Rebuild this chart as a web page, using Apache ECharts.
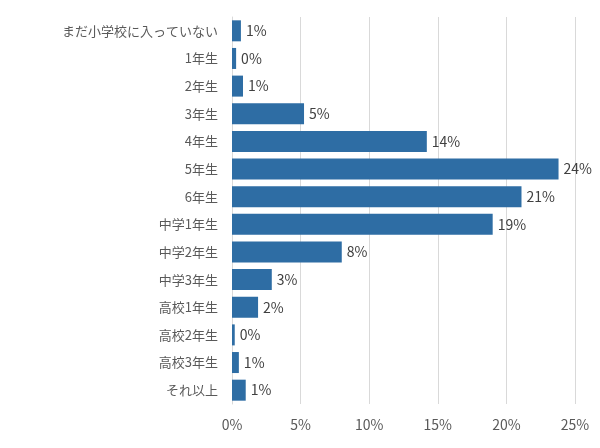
<!DOCTYPE html>
<html lang="ja">
<head>
<meta charset="UTF-8">
<title>chart</title>
<style>html,body{margin:0;padding:0;background:#fff}#chart{width:600px;height:448px}</style>
</head>
<body>
<div id="chart"></div>
<script src="https://cdn.jsdelivr.net/npm/echarts@6/dist/echarts.min.js"></script>
<script>
var categories = ['まだ小学校に入っていない', '1年生', '2年生', '3年生', '4年生', '5年生', '6年生',
    '中学1年生', '中学2年生', '中学3年生', '高校1年生', '高校2年生', '高校3年生', 'それ以上']
var values = [0.65, 0.3, 0.8, 5.25, 14.2, 23.8, 21.1, 19.0, 8.0, 2.9, 1.9, 0.2, 0.5, 1.0]
var xTicks = [0, 5, 10, 15, 20, 25]

var font = "'Noto Sans CJK JP', 'DejaVu Sans', sans-serif"
var myChart = echarts.init(document.getElementById('chart'))
var option = {
    animation: false,
    grid: { left: 232, right: 25, top: 17, bottom: 44, containLabel: false },
    xAxis: {
        type: 'value', min: 0, max: 25, interval: 5,
        axisLine: { show: false }, axisTick: { show: false },
        splitLine: { lineStyle: { color: '#d9d9d9' } },
        axisLabel: { color: '#595959', fontSize: 14, fontFamily: font, margin: 14,
            formatter: function (v) { return xTicks.indexOf(v) >= 0 ? v + '%' : '' } }
    },
    yAxis: {
        type: 'category', data: categories, inverse: true,
        axisLine: { show: true, lineStyle: { color: '#d9d9d9' } }, axisTick: { show: false },
        axisLabel: { color: '#595959', fontSize: 13, fontFamily: font, margin: 14 }
    },
    series: [{
        type: 'bar', data: values, barCategoryGap: '24%',
        itemStyle: { color: '#2e6da4' },
        label: { show: true, position: 'right', color: '#404040', fontSize: 14, fontFamily: font,
            formatter: function (p) { return Math.round(p.value) + '%' } }
    }]
}
myChart.setOption(option)
</script>
</body>
</html>
